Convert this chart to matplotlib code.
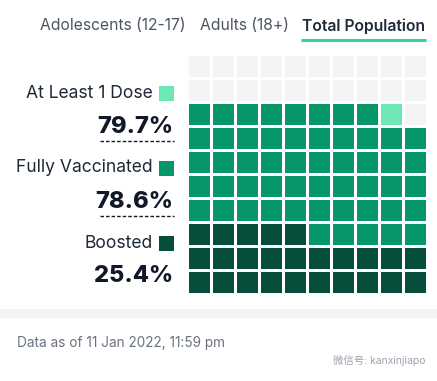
import matplotlib
matplotlib.use("Agg")
import matplotlib.pyplot as plt
from matplotlib.patches import Rectangle

# data
tabs = ["Adolescents (12-17)", "Adults (18+)", "Total Population"]
active_tab = "Total Population"
series = ["At Least 1 Dose", "Fully Vaccinated", "Boosted"]
percents = [79.7, 78.6, 25.4]
colors = ["#6ee7b7", "#059669", "#064e3b"]
empty_color = "#f3f4f6"
footer = "Data as of 11 Jan 2022, 11:59 pm"
watermark = "微信号: kanxinjiapo"

N_ROWS, N_COLS = 10, 10

plt.rcParams["font.family"] = ["Inter", "Noto Sans CJK SC", "DejaVu Sans"]

W, H = 437, 381
fig = plt.figure(figsize=(W / 100, H / 100), dpi=100)
ax = fig.add_axes([0, 0, 1, 1])
ax.set_xlim(0, W)
ax.set_ylim(H, 0)
ax.axis("off")

# tabs
tab_x = [40, 200, 302]
for x, name in zip(tab_x, tabs):
    bold = name == active_tab
    ax.text(x, 26, name, fontsize=11.3, ha="left", va="center",
            color="#1f2937" if bold else "#4b5563",
            fontweight="semibold" if bold else "normal")
ax.plot([301, 426], [39.5, 39.5], color="#34d399", lw=2.2,
        solid_capstyle="butt")

# waffle: fill bottom-up, left to right
counts = [int(p) for p in percents]  # cumulative levels
cell_colors = [empty_color] * (N_ROWS * N_COLS)
for c, col in zip(counts, colors):
    for k in range(c):
        cell_colors[k] = col

x0, y0, pitch, size = 189, 56, 24, 20.5
for k, col in enumerate(cell_colors):
    r = N_ROWS - 1 - k // N_COLS
    c = k % N_COLS
    ax.add_patch(Rectangle((x0 + c * pitch, y0 + r * pitch), size, size,
                           facecolor=col, edgecolor="none"))

# left legend labels
label_y = [93, 168, 243]
value_y = [127, 202, 276]
for i, (name, p, col) in enumerate(zip(series, percents, colors)):
    ly, vy = label_y[i], value_y[i]
    ax.text(153, ly, name, fontsize=12.6, ha="right", va="center",
            color="#1f2937")
    ax.add_patch(Rectangle((159, ly - 7.5), 15, 15, facecolor=col,
                           edgecolor="none"))
    ax.text(173, vy, f"{p:.1f}%", fontsize=17, ha="right", va="center",
            color="#111827", fontweight="heavy")
    if i < len(series) - 1:
        ax.plot([100, 174], [vy + 14, vy + 14], color="#111827", lw=1,
                ls=(0, (2.5, 1.5)))

# separator band and footer
ax.add_patch(Rectangle((0, 309), W, 9, facecolor="#f3f4f6", edgecolor="none"))
ax.text(17, 343, footer, fontsize=9.8, ha="left", va="center",
        color="#6b7280")
ax.text(333, 361, watermark, fontsize=7.5, ha="left", va="center",
        color="#9ca3af")

fig.savefig("out.png", dpi=100)
